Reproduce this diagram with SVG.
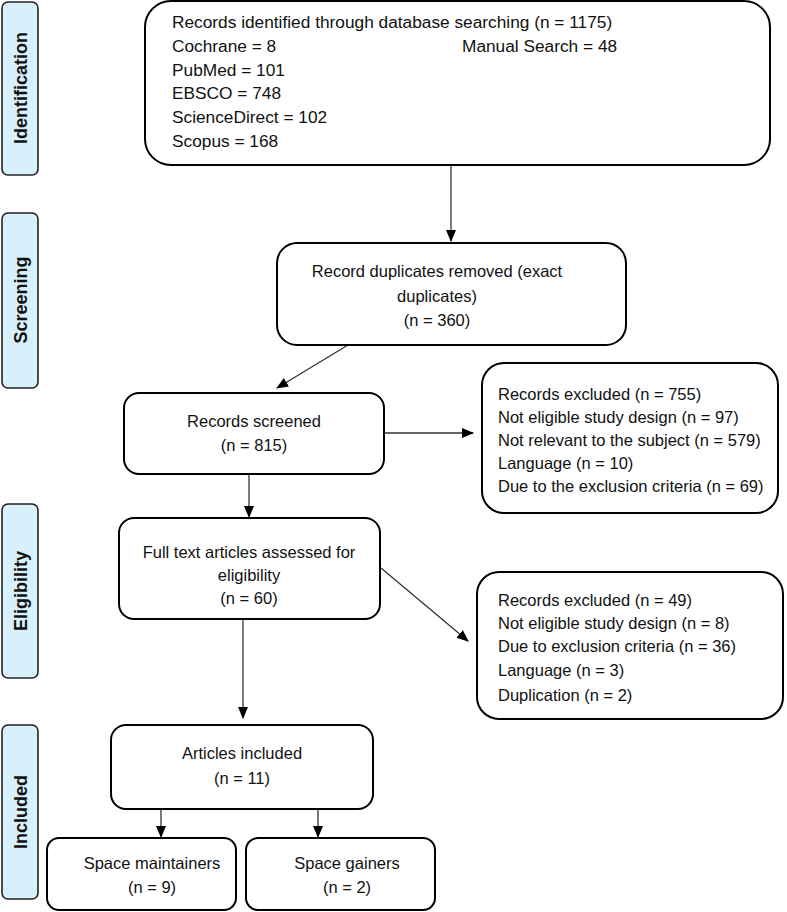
<svg xmlns="http://www.w3.org/2000/svg" width="787" height="912" viewBox="0 0 787 912">
<style>
.side{fill:#d7f0fb;stroke:#222;stroke-width:1.6}
.box{fill:#fff;stroke:#000;stroke-width:2}
.t{font-family:"Liberation Sans",Arial,sans-serif;font-size:16.5px;fill:#111}
.tb{font-family:"Liberation Sans",Arial,sans-serif;font-size:17.3px;fill:#111}
.c{text-anchor:middle}
.st{font-family:"Liberation Sans",Arial,sans-serif;font-size:18px;font-weight:bold;fill:#111;text-anchor:middle}
.ln{stroke:#333;stroke-width:1.3;fill:none;marker-end:url(#ah)}
</style>
<defs>
<marker id="ah" markerWidth="12" markerHeight="10" refX="11" refY="5" orient="auto" markerUnits="userSpaceOnUse">
<path d="M0,0 L12,5 L0,10 Z" fill="#000"/>
</marker>
</defs>
<rect width="787" height="912" fill="#fff"/>

<g id="stage-identification">
<rect class="side" x="2" y="2" width="36" height="173" rx="6"/>
<text class="st" transform="translate(27,88) rotate(-90)">Identification</text>
</g>
<g id="stage-screening">
<rect class="side" x="2" y="213" width="36" height="175" rx="6"/>
<text class="st" transform="translate(27,300) rotate(-90)">Screening</text>
</g>
<g id="stage-eligibility">
<rect class="side" x="2" y="504" width="36" height="174" rx="6"/>
<text class="st" transform="translate(27,591) rotate(-90)">Eligibility</text>
</g>
<g id="stage-included">
<rect class="side" x="2" y="725" width="36" height="174" rx="6"/>
<text class="st" transform="translate(27,812) rotate(-90)">Included</text>
</g>

<g id="connectors">
<line class="ln" x1="451" y1="165" x2="451" y2="241"/>
<line class="ln" x1="348" y1="345" x2="277" y2="388"/>
<line class="ln" x1="384" y1="433" x2="473" y2="433"/>
<line class="ln" x1="249" y1="474" x2="249" y2="517"/>
<line class="ln" x1="381" y1="568" x2="468" y2="641"/>
<line class="ln" x1="243" y1="619" x2="243" y2="718"/>
<line class="ln" x1="161" y1="809" x2="161" y2="837"/>
<line class="ln" x1="318" y1="809" x2="318" y2="837"/>
</g>

<g id="identified">
<rect class="box" x="145" y="1" width="625" height="164" rx="26"/>
<text class="tb" x="172" y="28">Records identified through database searching (n = 1175)</text>
<text class="tb" x="172" y="52">Cochrane = 8</text>
<text class="tb" x="462" y="52">Manual Search = 48</text>
<text class="tb" x="172" y="76">PubMed = 101</text>
<text class="tb" x="172" y="99">EBSCO = 748</text>
<text class="tb" x="172" y="123">ScienceDirect = 102</text>
<text class="tb" x="172" y="147">Scopus = 168</text>
</g>

<g id="duplicates">
<rect class="box" x="277" y="243" width="349" height="102" rx="20"/>
<text class="t c" x="437" y="277">Record duplicates removed (exact</text>
<text class="t c" x="437" y="302">duplicates)</text>
<text class="t c" x="437" y="326">(n = 360)</text>
</g>

<g id="screened">
<rect class="box" x="124" y="393" width="260" height="81" rx="15"/>
<text class="t c" x="254" y="427">Records screened</text>
<text class="t c" x="254" y="451">(n = 815)</text>
</g>

<g id="excluded1">
<rect class="box" x="482" y="363" width="296" height="150" rx="22"/>
<text class="t" x="498" y="400">Records excluded (n = 755)</text>
<text class="t" x="498" y="423">Not eligible study design (n = 97)</text>
<text class="t" x="498" y="446">Not relevant to the subject (n = 579)</text>
<text class="t" x="498" y="469">Language (n = 10)</text>
<text class="t" x="498" y="492">Due to the exclusion criteria (n = 69)</text>
</g>

<g id="fulltext">
<rect class="box" x="119" y="518" width="261" height="101" rx="15"/>
<text class="t c" x="249" y="558">Full text articles assessed for</text>
<text class="t c" x="249" y="581">eligibility</text>
<text class="t c" x="249" y="604">(n = 60)</text>
</g>

<g id="excluded2">
<rect class="box" x="477" y="572" width="306" height="147" rx="22"/>
<text class="t" x="498" y="606">Records excluded (n = 49)</text>
<text class="t" x="498" y="629">Not eligible study design (n = 8)</text>
<text class="t" x="498" y="652">Due to exclusion criteria (n = 36)</text>
<text class="t" x="498" y="676">Language (n = 3)</text>
<text class="t" x="498" y="701">Duplication (n = 2)</text>
</g>

<g id="included">
<rect class="box" x="111" y="725" width="262" height="84" rx="15"/>
<text class="t c" x="242" y="759">Articles included</text>
<text class="t c" x="242" y="784">(n = 11)</text>
</g>

<g id="maintainers">
<rect class="box" x="47" y="838" width="189" height="72" rx="12"/>
<text class="t c" x="152" y="869">Space maintainers</text>
<text class="t c" x="152" y="893">(n = 9)</text>
</g>

<g id="gainers">
<rect class="box" x="246" y="838" width="189" height="72" rx="12"/>
<text class="t c" x="347" y="869">Space gainers</text>
<text class="t c" x="347" y="893">(n = 2)</text>
</g>
</svg>
